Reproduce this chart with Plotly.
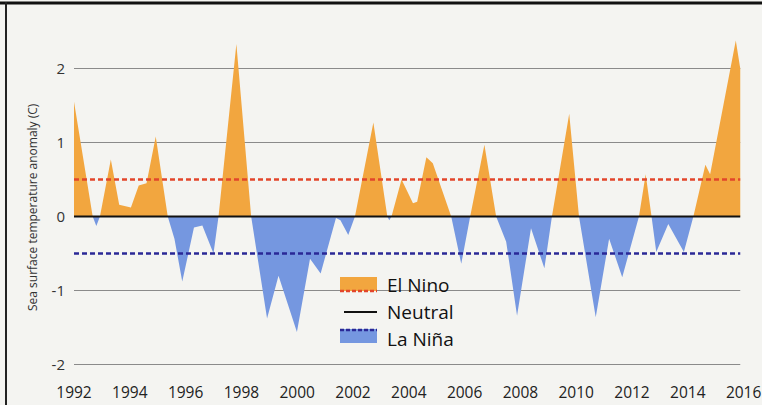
import numpy as np
import plotly.graph_objects as go

# ---- data ----
years = [1992.0, 1992.67, 1992.8, 1992.93, 1993.32, 1993.62, 1994.04, 1994.32, 1994.6, 1994.93,
         1995.36, 1995.6, 1995.88, 1996.3, 1996.6, 1997.0, 1997.18, 1997.82, 1998.35,
         1998.92, 1999.33, 1999.99, 2000.46, 2000.84, 2001.39, 2001.55, 2001.83, 2002.07,
         2002.73, 2003.23, 2003.3, 2003.38, 2003.74, 2004.15, 2004.3, 2004.63, 2004.86,
         2005.52, 2005.88, 2006.2, 2006.71, 2007.13, 2007.49, 2007.88, 2008.38, 2008.86,
         2009.13, 2009.75, 2010.1, 2010.7, 2011.18, 2011.65, 2012.25, 2012.49, 2012.7,
         2012.87, 2013.3, 2013.86, 2014.2, 2014.63, 2014.8, 2015.72, 2015.88]
anomaly = [1.55, 0.0, -0.13, 0.0, 0.77, 0.16, 0.12, 0.42, 0.45, 1.08,
           0.0, -0.3, -0.88, -0.15, -0.12, -0.5, 0.0, 2.33, 0.0,
           -1.38, -0.8, -1.56, -0.57, -0.77, -0.02, -0.05, -0.25, 0.0,
           1.27, 0.0, -0.05, 0.0, 0.5, 0.18, 0.2, 0.8, 0.72,
           0.0, -0.64, 0.0, 0.97, 0.0, -0.34, -1.34, -0.16, -0.7,
           0.0, 1.39, 0.0, -1.36, -0.3, -0.82, 0.0, 0.57, 0.0,
           -0.48, -0.1, -0.48, 0.0, 0.7, 0.57, 2.38, 2.0]

el_nino_threshold = 0.5
la_nina_threshold = -0.5
neutral_level = 0.0

x_tick_vals = [1992, 1994, 1996, 1998, 2000, 2002, 2004, 2006, 2008, 2010, 2012, 2014, 2016]
x_tick_text = [str(v) for v in x_tick_vals]
y_tick_vals = [2, 1, 0, -1, -2]
y_tick_text = ["2", "1", "0", "-1", "-2"]
grid_levels = [2, 1, -1, -2]

legend_labels = ["El Nino", "Neutral", "La Niña"]
y_title = "Sea surface temperature anomaly (C)"

# ---- styling ----
W, H = 762, 405
ML, MR, MT, MB = 74, 15, 10, 30
PW, PH = W - ML - MR, H - MT - MB
BG = "#f4f4f1"
ORANGE = "#f2a63f"
BLUE = "#7597e0"
RED_DASH = "#e2452b"
NAVY_DASH = "#2a2896"
FONT = "Open Sans"
PX_PER_YEAR = 27.9


def px(xp):
    return (xp - ML) / PW


def py(yp):
    return (H - MB - yp) / PH


a = np.array(anomaly)
pos = np.clip(a, 0, None)
neg = np.clip(a, None, 0)
x0, x1 = years[0], years[-1]

fig = go.Figure()

for g in grid_levels:
    fig.add_trace(go.Scatter(x=[x0, x1], y=[g, g], mode="lines",
                             line=dict(color="#8a8a8a", width=1), hoverinfo="skip"))

fig.add_trace(go.Scatter(x=years, y=pos, mode="lines", fill="tozeroy",
                         fillcolor=ORANGE, line=dict(width=0, color=ORANGE), hoverinfo="skip"))
fig.add_trace(go.Scatter(x=years, y=neg, mode="lines", fill="tozeroy",
                         fillcolor=BLUE, line=dict(width=0, color=BLUE), hoverinfo="skip"))

fig.add_trace(go.Scatter(x=[x0, x1], y=[neutral_level] * 2, mode="lines",
                         line=dict(color="#111111", width=2), hoverinfo="skip"))
fig.add_trace(go.Scatter(x=[x0, x1], y=[el_nino_threshold] * 2, mode="lines",
                         line=dict(color=RED_DASH, width=2.5, dash="5px,3px"), hoverinfo="skip"))
fig.add_trace(go.Scatter(x=[x0, x1], y=[la_nina_threshold] * 2, mode="lines",
                         line=dict(color=NAVY_DASH, width=2.5, dash="5px,3px"), hoverinfo="skip"))

zero_px = 216.5
ppu = 74.0
y_top = (zero_px - MT) / ppu
y_bot = (zero_px - (H - MB)) / ppu

fig.update_layout(
    width=W, height=H,
    margin=dict(l=ML, r=MR, t=MT, b=MB, autoexpand=False),
    paper_bgcolor=BG, plot_bgcolor=BG,
    showlegend=False,
    hovermode=False,
    dragmode=False,
    font=dict(family=FONT, color="#222222"),
    xaxis=dict(range=[1992, 1992 + PW / PX_PER_YEAR], tickvals=x_tick_vals, ticktext=x_tick_text,
               showgrid=False, zeroline=False, showline=False, ticks="", automargin=False,
               tickfont=dict(size=15.5, color="#222222"), ticklabelstandoff=6,
               ticklabeloverflow="allow"),
    yaxis=dict(range=[y_bot, y_top], tickvals=y_tick_vals, ticktext=y_tick_text,
               showgrid=False, zeroline=False, showline=False, ticks="", automargin=False,
               tickfont=dict(size=15, color="#333333"), ticklabelstandoff=8),
)

shapes = []
# newspaper frame
shapes.append(dict(type="line", xref="paper", yref="paper", x0=px(0), x1=px(W), y0=py(3), y1=py(3),
                   line=dict(color="#111111", width=3)))
shapes.append(dict(type="line", xref="paper", yref="paper", x0=px(6), x1=px(6), y0=py(2), y1=py(H),
                   line=dict(color="#222222", width=2)))
# legend swatches
shapes.append(dict(type="rect", xref="paper", yref="paper", x0=px(340), x1=px(377), y0=py(291), y1=py(277),
                   fillcolor=ORANGE, line=dict(width=0)))
shapes.append(dict(type="line", xref="paper", yref="paper", x0=px(340), x1=px(377), y0=py(291), y1=py(291),
                   line=dict(color=RED_DASH, width=2.5, dash="4px,2px")))
shapes.append(dict(type="line", xref="paper", yref="paper", x0=px(344), x1=px(377), y0=py(312), y1=py(312),
                   line=dict(color="#111111", width=2)))
shapes.append(dict(type="rect", xref="paper", yref="paper", x0=px(340), x1=px(377), y0=py(343), y1=py(329),
                   fillcolor=BLUE, line=dict(width=0)))
shapes.append(dict(type="line", xref="paper", yref="paper", x0=px(340), x1=px(377), y0=py(330), y1=py(330),
                   line=dict(color=NAVY_DASH, width=2.5, dash="4px,2px")))
fig.update_layout(shapes=shapes)

for lab, yy in zip(legend_labels, [285, 312, 339]):
    fig.add_annotation(x=px(385), y=py(yy), xref="paper", yref="paper", text=lab,
                       showarrow=False, xanchor="left", yanchor="middle",
                       font=dict(size=19, color="#111111", family=FONT))

fig.add_annotation(x=px(32), y=py(207), xref="paper", yref="paper", text=y_title,
                   textangle=-90, showarrow=False, xanchor="center", yanchor="middle",
                   font=dict(size=12, color="#333333", family=FONT))

post = (
    "var gd=document.getElementById('{plot_id}');"
    "var de=document.documentElement, b=document.body;"
    "b.style.margin='0';b.style.padding='0';b.style.overflow='hidden';de.style.overflow='hidden';"
    "b.style.background='" + BG + "';de.style.background='" + BG + "';"
    "gd.style.overflow='hidden';"
    "gd.querySelectorAll('svg,.svg-container').forEach(function(s){s.style.overflow='hidden';});"
)

fig.write_html(
    "out.html",
    config={"displayModeBar": False, "staticPlot": True},
    post_script=post,
)
